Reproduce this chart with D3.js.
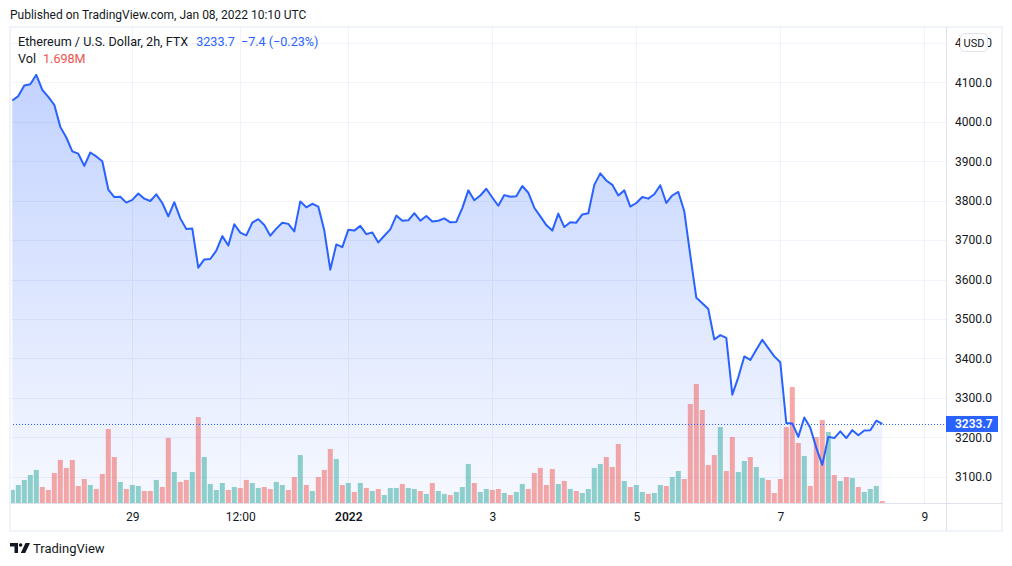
<!doctype html>
<html>
<head>
<meta charset="utf-8"/>
<title>Ethereum / U.S. Dollar, 2h, FTX</title>
<script src="https://d3js.org/d3.v7.min.js"></script>
<style>
body{margin:0;background:#fff;}
svg{display:block;font-family:"Trebuchet MS",Roboto,"Open Sans",sans-serif;}
</style>
</head>
<body>
<script>
// 2h candles, first one Dec 27 2021 08:00 UTC
var startTime = Date.UTC(2021, 11, 27, 8);
var barHours = 2;
var firstOpen = 4045;

var closes = [
 4054,4065,4092,4095,4119,4081,4063,4043,3987,3960,
 3925,3919,3888,3922,3912,3900,3828,3809,3810,3795,
 3802,3818,3805,3799,3816,3794,3760,3796,3755,3728,
 3729,3630,3651,3652,3673,3710,3686,3740,3719,3712,
 3744,3753,3738,3711,3729,3744,3741,3722,3798,3783,
 3792,3785,3724,3625,3689,3682,3726,3724,3736,3715,
 3719,3694,3711,3727,3762,3749,3750,3768,3749,3761,
 3747,3749,3755,3745,3746,3781,3826,3801,3813,3830,
 3808,3787,3814,3810,3811,3837,3820,3782,3760,3738,
 3724,3767,3733,3745,3744,3765,3768,3840,3869,3851,
 3840,3813,3826,3785,3794,3809,3805,3816,3839,3794,
 3813,3822,3773,3661,3554,3540,3525,3448,3459,3452,
 3308,3352,3405,3396,3422,3447,3426,3405,3390,3236,
 3235,3201,3250,3224,3173,3130,3201,3198,3215,3198,
 3218,3205,3217,3218,3242,3233.7
];

// volume, millions
var volumes = [
 11.1,15.3,19.6,23.8,28.1,13.6,11.1,25.5,36.6,29.8,
 36.6,14.5,20.4,15.3,11.9,24.7,62.9,39.1,17.9,11.9,
 15.3,14.5,10.2,10.2,19.6,13.6,55.3,26.4,17.9,19.6,
 26.4,73.1,39.1,16.2,11.1,17.0,11.1,13.6,12.8,19.6,
 17.0,12.8,13.6,11.9,17.9,15.3,11.1,22.1,40.8,15.3,
 10.2,22.1,28.1,45.9,37.4,
 15.3,17.0,9.4,17.0,12.8,10.2,11.9,6.8,12.8,12.8,
 16.2,12.8,11.9,10.2,7.7,17.0,10.2,7.7,6.8,9.4,
 13.6,33.2,17.0,9.4,11.9,11.1,11.9,8.5,6.8,9.4,
 16.2,11.9,25.5,29.8,15.3,28.9,16.2,18.7,11.9,10.2,
 8.5,11.9,29.8,33.2,39.1,30.6,50.2,18.7,13.6,15.3,
 9.4,7.7,8.5,15.3,14.5,
 22.1,27.2,20.4,84.2,101.2,79.1,32.3,40.8,64.6,27.2,
 56.1,26.4,35.7,39.1,30.6,21.3,19.6,8.5,20.4,64.6,
 98.6,51.0,40.0,14.5,56.1,70.6,60.4,23.8,18.7,22.1,
 21.3,13.6,9.4,11.9,14.5,1.698
];

var priceTicks = [3100,3200,3300,3400,3500,3600,3700,3800,3900,4000,4100,4200];
var timeTickDates = [Date.UTC(2021,11,29), Date.UTC(2021,11,30,12), Date.UTC(2022,0,1),
                     Date.UTC(2022,0,3), Date.UTC(2022,0,5), Date.UTC(2022,0,7), Date.UTC(2022,0,9)];
var timeTickLabels = ["29","12:00","2022","3","5","7","9"];

var lastPrice = 3233.7;
var headerTitle = "Ethereum / U.S. Dollar, 2h, FTX";
var changeText = "\u22127.4 (\u22120.23%)";
var volText = "1.698M";

var W = 1012, H = 566;
var pLeft = 10, pRight = 946, pTop = 27, pBottom = 503, frameRight = 1002, frameBottom = 531;

var svg = d3.select("body").append("svg").attr("width", W).attr("height", H);

var bars = closes.map(function(c, i){
  return {t: new Date(startTime + i*barHours*3600000), close: c,
          open: i == 0 ? firstOpen : closes[i-1], vol: volumes[i]};
});

var x = d3.scaleUtc()
  .domain([new Date(timeTickDates[0]), new Date(timeTickDates[6])])
  .range([132.3, 924.3]);
var y = d3.scaleLinear().domain([3100, 4100]).range([476.7, 82.3]);
var yv = d3.scaleLinear().domain([0, 102]).range([pBottom, pBottom - 120]);

var defs = svg.append("defs");
defs.append("clipPath").attr("id", "plot")
  .append("rect").attr("x", pLeft).attr("y", pTop).attr("width", pRight-pLeft).attr("height", pBottom-pTop);
var grad = defs.append("linearGradient").attr("id", "areaFill")
  .attr("gradientUnits", "userSpaceOnUse")
  .attr("x1", 0).attr("x2", 0).attr("y1", y(d3.max(closes))).attr("y2", pBottom);
grad.append("stop").attr("offset", 0).attr("stop-color", "rgb(41,98,255)").attr("stop-opacity", 0.28);
grad.append("stop").attr("offset", 1).attr("stop-color", "rgb(41,98,255)").attr("stop-opacity", 0.04);

// header
svg.append("text").attr("x", 10).attr("y", 19)
  .attr("font-size", 12).attr("fill", "#131722")
  .text("Published on TradingView.com, Jan 08, 2022 10:10 UTC");

// grid
var plot = svg.append("g").attr("clip-path", "url(#plot)");
plot.selectAll(".hg").data(priceTicks).enter().append("line")
  .attr("x1", pLeft).attr("x2", pRight)
  .attr("y1", function(d){return Math.round(y(d)) + 0.5})
  .attr("y2", function(d){return Math.round(y(d)) + 0.5})
  .attr("stroke", "#f0f3fa");
plot.selectAll(".vg").data(timeTickDates).enter().append("line")
  .attr("y1", pTop).attr("y2", pBottom)
  .attr("x1", function(d){return Math.round(x(new Date(d))) + 0.5})
  .attr("x2", function(d){return Math.round(x(new Date(d))) + 0.5})
  .attr("stroke", "#f0f3fa");

// area + volume + line
var area = d3.area()
  .x(function(d){return x(d.t)})
  .y0(pBottom)
  .y1(function(d){return y(d.close)});
plot.append("path").datum(bars).attr("d", area).attr("fill", "url(#areaFill)");

plot.selectAll(".vol").data(bars).enter().append("rect")
  .attr("x", function(d){return x(d.t) - 2.5})
  .attr("width", 5)
  .attr("y", function(d){return yv(d.vol)})
  .attr("height", function(d){return pBottom - yv(d.vol)})
  .attr("fill", function(d){return d.close >= d.open ? "rgba(38,166,154,0.5)" : "rgba(239,83,80,0.5)"});

var line = d3.line()
  .x(function(d){return x(d.t)})
  .y(function(d){return y(d.close)});
plot.append("path").datum(bars).attr("d", line)
  .attr("fill", "none").attr("stroke", "#2962ff").attr("stroke-width", 2)
  .attr("stroke-linejoin", "round");

// last price dotted line
plot.append("line")
  .attr("x1", pLeft).attr("x2", pRight)
  .attr("y1", Math.round(y(lastPrice)) + 0.5).attr("y2", Math.round(y(lastPrice)) + 0.5)
  .attr("stroke", "#2962ff").attr("stroke-width", 1).attr("stroke-dasharray", "1,2");

// frame
svg.append("rect").attr("x", pLeft).attr("y", pTop)
  .attr("width", frameRight-pLeft).attr("height", frameBottom-pTop)
  .attr("fill", "none").attr("stroke", "#f0f3fa").attr("stroke-width", 2);
svg.append("line").attr("x1", pRight+0.5).attr("x2", pRight+0.5).attr("y1", pTop).attr("y2", frameBottom)
  .attr("stroke", "#e0e3eb");
svg.append("line").attr("x1", pLeft).attr("x2", frameRight).attr("y1", pBottom+0.5).attr("y2", pBottom+0.5)
  .attr("stroke", "#e0e3eb");

// price axis
var yAxis = d3.axisRight(y).tickValues(priceTicks).tickSize(0).tickPadding(0)
  .tickFormat(d3.format(".1f"));
var ya = svg.append("g").attr("transform", "translate(" + (pRight + 9) + ",0)").call(yAxis);
ya.select(".domain").remove();
ya.selectAll("text").attr("font-size", 12).attr("fill", "#131722")
  .attr("font-family", "\"Trebuchet MS\",Roboto,sans-serif");

// time axis
var xAxis = d3.axisBottom(x).tickValues(timeTickDates.map(function(d){return new Date(d)}))
  .tickSize(0).tickPadding(0)
  .tickFormat(function(d, i){return timeTickLabels[i]});
var xa = svg.append("g").attr("transform", "translate(0," + (pBottom + 9) + ")").call(xAxis);
xa.select(".domain").remove();
xa.selectAll("text").attr("font-size", 12).attr("fill", "#131722")
  .attr("font-family", "\"Trebuchet MS\",Roboto,sans-serif")
  .attr("font-weight", function(d, i){return timeTickLabels[i] == "2022" ? 600 : 400});

// USD badge (sits over the 4200.0 label, as in the original)
svg.append("rect").attr("x", 960.5).attr("y", 33.5).attr("width", 27).attr("height", 18).attr("rx", 4)
  .attr("fill", "#fff").attr("stroke", "#e0e3eb");
svg.append("text").attr("x", 974).attr("y", 46.5).attr("text-anchor", "middle")
  .attr("font-size", 11).attr("fill", "#131722").text("USD");

// last price label
var ly = y(lastPrice);
svg.append("rect").attr("x", pRight).attr("y", ly - 8).attr("width", 52).attr("height", 16)
  .attr("fill", "#2962ff");
svg.append("text").attr("x", pRight + 9).attr("y", ly + 4.5)
  .attr("font-size", 12).attr("fill", "#fff").attr("font-weight", 600).text(d3.format(".1f")(lastPrice));

// legend
var l1 = svg.append("text").attr("x", 18).attr("y", 46).attr("font-size", 12.6).attr("fill", "#131722");
l1.append("tspan").text(headerTitle);
l1.append("tspan").attr("dx", 8).attr("fill", "#2962ff").text(d3.format(".1f")(lastPrice));
l1.append("tspan").attr("dx", 6).attr("fill", "#2962ff").text(changeText);
var l2 = svg.append("text").attr("x", 18).attr("y", 63).attr("font-size", 12.6).attr("fill", "#131722");
l2.append("tspan").text("Vol");
l2.append("tspan").attr("dx", 7).attr("fill", "#ef5350").text(volText);

// footer logo
var logo = svg.append("g").attr("fill", "#131722");
logo.append("path").attr("d", "M10,543 H18 V553 H14.5 V546.5 H10 Z");
logo.append("circle").attr("cx", 20.6).attr("cy", 545).attr("r", 1.8);
logo.append("path").attr("d", "M25.5,543 H30 L25.2,553 H20.8 Z");
svg.append("text").attr("x", 33).attr("y", 553).attr("font-size", 13).attr("fill", "#131722")
  .text("TradingView");
</script>
</body>
</html>
